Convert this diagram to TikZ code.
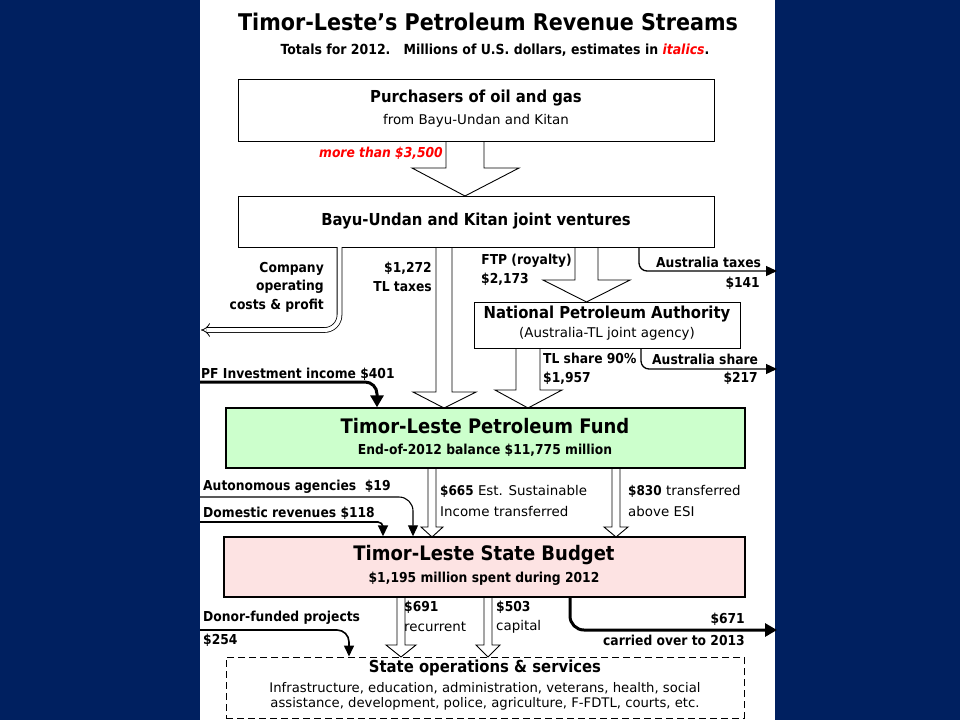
\documentclass[tikz,border=0pt]{standalone}
\usepackage{fontspec}
\setmainfont{DejaVu Sans}[BoldFont={DejaVu Sans Condensed Bold},ItalicFont={DejaVu Sans Oblique},BoldItalicFont={DejaVu Sans Condensed Bold Oblique}]
\usetikzlibrary{arrows.meta}
\definecolor{navy}{HTML}{002060}
\definecolor{pfgreen}{HTML}{CCFFCC}
\definecolor{sbpink}{HTML}{FDE3E3}
\definecolor{estred}{HTML}{FF0000}
\newcommand\fsz[2]{\fontsize{#1}{#2}\selectfont}
\newcommand\harrow[7]{\filldraw[hol] (#1,#3) -- (#1,#4) -- (#5,#4) -- ({(#1+#2)/2},#7) -- (#6,#4) -- (#2,#4) -- (#2,#3);}
\tikzset{
  hol/.style={fill=white,draw=black,line width=0.9pt,line join=miter},
  box/.style={draw=black,line width=1pt,inner sep=0pt,fill=white},
  bigbox/.style={draw=black,line width=1.4pt,inner sep=0pt},
  txt/.style={inner sep=0pt,font=\fsz{13.4}{18.5}},
  btxt/.style={inner sep=0pt,font=\fsz{13.7}{18.5}\bfseries},
  hdr/.style={inner sep=0pt,font=\fsz{16.5}{20}\bfseries},
  bighdr/.style={inner sep=0pt,font=\fsz{20}{24}\bfseries},
  flow/.style={draw=black,-{Triangle[length=11pt,width=10pt]},rounded corners=10pt},
  thickflow/.style={flow,line width=3pt,-{Triangle[length=12pt,width=13pt]}},
}
\begin{document}
\begin{tikzpicture}[x=1pt,y=-1pt]
\fill[navy] (0,0) rectangle (960,720);
\fill[white] (200,0) rectangle (775,720);
\useasboundingbox (0,0) rectangle (960,720);

% titles
\node[inner sep=0pt,font=\fsz{23}{27}\bfseries] (title) at (488,22) {Timor-Leste’s Petroleum Revenue Streams};
\node[inner sep=0pt,font=\fsz{13.9}{16}\bfseries] (sub) at (495,50) {Totals for 2012.\ \ \ Millions of U.S. dollars, estimates in \textcolor{estred}{\itshape italics}.};

% hollow arrows (drawn before the boxes)
\harrow{446}{484}{141}{168}{412}{519}{196}
\harrow{436}{452}{247}{392}{413}{476}{408}
\harrow{575}{598}{247}{280}{543}{630}{302}
\harrow{516}{540}{348}{390}{495}{562}{408}
\harrow{428}{436}{468}{527}{421}{443}{537}
\harrow{612}{620}{468}{527}{604}{628}{537}
\harrow{397}{405}{597}{645}{386}{416}{657}
\harrow{484}{492}{597}{645}{476}{500}{657}

% boxes
\node[box,minimum width=476pt,minimum height=62pt] (pur) at (476,110) {};
\node[box,minimum width=476pt,minimum height=51pt] (jv) at (476,221.5) {};
\node[box,minimum width=266pt,minimum height=46pt] (npa) at (607,325) {};
\node[bigbox,fill=pfgreen,minimum width=519pt,minimum height=60pt] (pf) at (485.5,438) {};
\node[bigbox,fill=sbpink,minimum width=521pt,minimum height=60pt] (sb) at (484.5,567) {};
\node[draw=black,line width=1pt,dash pattern=on 7pt off 4pt,inner sep=0pt,minimum width=518pt,minimum height=61pt] (ops) at (485,687.5) {};

% box texts
\node[hdr] (purT) at (476,98) {Purchasers of oil and gas};
\node[txt] (purS) at (476,121) {from Bayu-Undan and Kitan};
\node[hdr] (jvT) at (476,221) {Bayu-Undan and Kitan joint ventures};
\node[hdr] (npaT) at (607,314) {National Petroleum Authority};
\node[txt] (npaS) at (607,334) {(Australia-TL joint agency)};
\node[bighdr] (pfT) at (485,426) {Timor-Leste Petroleum Fund};
\node[btxt] (pfS) at (485,450) {End-of-2012 balance \$11,775 million};
\node[bighdr] (sbT) at (484,555) {Timor-Leste State Budget};
\node[btxt] (sbS) at (484,579) {\$1,195 million spent during 2012};
\node[hdr] (opsT) at (485,668) {State operations \& services};
\node[txt,align=center,font=\fsz{13.2}{15}] (opsS) at (485,696.5) {Infrastructure, education, administration, veterans, health, social\\assistance, development, police, agriculture, F-FDTL, courts, etc.};

% flow labels
\node[btxt,anchor=east,text=estred,font=\fsz{13.7}{18}\bfseries\itshape] (l3500) at (443,153) {more than \$3,500};
\node[btxt,anchor=east,align=right] (lcomp) at (324,287) {Company\\operating\\costs \& profit};
\node[btxt,anchor=east,align=right] (ltax) at (432,277) {\$1,272\\TL taxes};
\node[btxt,anchor=east] (lftp) at (572,261) {FTP (royalty)};
\node[btxt,anchor=west] (lftpv) at (481,279) {\$2,173};
\node[btxt,anchor=west] (laut) at (656,262) {Australia taxes};
\node[btxt,anchor=east] (lautv) at (760,283) {\$141};
\node[btxt,anchor=west] (ltls) at (543,358) {TL share 90\%};
\node[btxt,anchor=west] (ltlsv) at (543,378) {\$1,957};
\node[btxt,anchor=west] (laus) at (652,359) {Australia share};
\node[btxt,anchor=east] (lausv) at (758,378) {\$217};
\node[btxt,anchor=west] (lpfi) at (201,374) {PF Investment income \$401};
\node[btxt,anchor=west] (lagen) at (203,487) {Autonomous agencies\ \ \$19};
\node[btxt,anchor=west] (ldom) at (203,513) {Domestic revenues \$118};
\node[txt,anchor=west] (l665) at (440,491) {\textbf{\$665} Est. Sustainable};
\node[txt,anchor=west] (l665b) at (440,511) {Income transferred};
\node[txt,anchor=west] (l830) at (628,491) {\textbf{\$830} transferred};
\node[txt,anchor=west] (l830b) at (628,511) {above ESI};
\node[btxt,anchor=west] (l691) at (404,607) {\$691};
\node[txt,anchor=west] (l691b) at (404,627) {recurrent};
\node[btxt,anchor=west] (l503) at (496,607) {\$503};
\node[txt,anchor=west] (l503b) at (496,627) {capital};
\node[btxt,anchor=east] (l671) at (745,619) {\$671};
\node[btxt,anchor=east] (l671b) at (745,640) {carried over to 2013};
\node[btxt,anchor=west] (ldon) at (203,618) {Donor-funded projects};
\node[btxt,anchor=west] (ldonv) at (203,640) {\$254};

% coordinates for free ends and bends
\coordinate (compTop) at (339.5,247);
\coordinate (compBend) at (339.5,330);
\coordinate (compEnd) at (201,330);
\coordinate (autTop) at (639,247);
\coordinate (autBend) at (639,271);
\coordinate (autEnd) at (777,271);
\coordinate (ausTop) at (641,348);
\coordinate (ausBend) at (641,369);
\coordinate (ausEnd) at (777,369);
\coordinate (pfiStart) at (200,382);
\coordinate (pfiBend) at (377,382);
\coordinate (agStart) at (200,497);
\coordinate (agBend) at (413,497);
\coordinate (domStart) at (200,522);
\coordinate (domBend) at (383,522);
\coordinate (donStart) at (200,630);
\coordinate (donBend) at (349,630);
\coordinate (carTop) at (570,597);
\coordinate (carBend) at (570,630);
\coordinate (carEnd) at (777,630);

% connectors
\draw[line width=0.8pt,double distance=4pt,rounded corners=15pt,-{Implies}] (compTop) -- (compBend) -- (compEnd);
\draw[flow,line width=1.3pt,rounded corners=8pt] (autTop) -- (autBend) -- (autEnd);
\draw[flow,line width=1.3pt,rounded corners=8pt] (ausTop) -- (ausBend) -- (ausEnd);
\draw[thickflow,rounded corners=12pt] (pfiStart) -- (pfiBend) -- (pfiBend |- pf.north);
\draw[flow,line width=1.1pt,rounded corners=14pt] (agStart) -- (agBend) -- (agBend |- sb.north);
\draw[flow,line width=1.6pt,rounded corners=5pt] (domStart) -- (domBend) -- (domBend |- sb.north);
\draw[flow,line width=1.6pt,rounded corners=12pt] (donStart) -- (donBend) -- (donBend |- ops.north);
\draw[thickflow,rounded corners=14pt] (carTop) -- (carBend) -- (carEnd);
\end{tikzpicture}
\end{document}
